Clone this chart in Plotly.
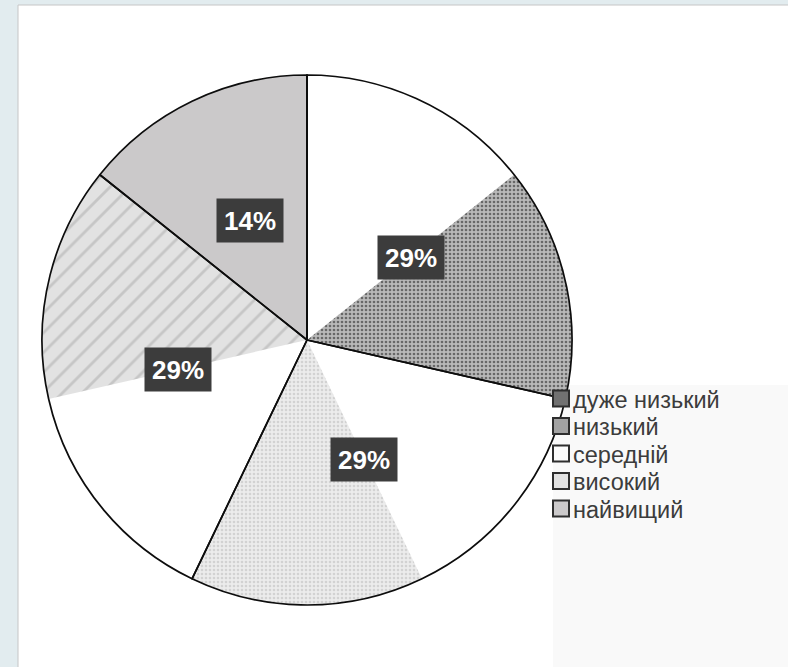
import math
import plotly.graph_objects as go

# ---- data ----
categories = ["дуже низький", "низький", "середній", "високий", "найвищий"]
values = [0, 2, 2, 2, 1]

# ---- styles ----
legend_fill = ["#717171", "#a2a2a2", "#fbfbfb", "#e2e2e2", "#cbc9ca"]
# slices drawn half white / half textured as in the picture
split = [False, True, True, True, False]
tex_fill = ["#747474", "#b9b9b9", "#ececec", "#e2e2e2", "#cbc9ca"]
tex_shape = ["", ".", ".", "/", ""]
tex_fg = ["#747474", "#686868", "#d2d2d2", "#c6c6c6", "#cbc9ca"]
tex_size = [8, 4, 4, 14, 8]
tex_sol = [0.3, 0.35, 0.35, 0.2, 0.3]

W, H = 788, 667
CX, CY, R = 307, 340, 265
dom_x = [(CX - R) / W, (CX + R) / W]
dom_y = [1 - (CY + R) / H, 1 - (CY - R) / H]

fig = go.Figure()

# appearance slices
sub_labels, sub_vals, sub_col, sub_shape, sub_fg, sub_size, sub_sol = [], [], [], [], [], [], []
for i, (c, v) in enumerate(zip(categories, values)):
    if v <= 0:
        continue
    if split[i]:
        sub_labels += [c + " (a)", c + " (b)"]
        sub_vals += [v / 2, v / 2]
        sub_col += ["#ffffff", tex_fill[i]]
        sub_shape += ["", tex_shape[i]]
        sub_fg += ["#ffffff", tex_fg[i]]
        sub_size += [8, tex_size[i]]
        sub_sol += [0.3, tex_sol[i]]
    else:
        sub_labels += [c]
        sub_vals += [v]
        sub_col += [tex_fill[i]]
        sub_shape += [tex_shape[i]]
        sub_fg += [tex_fg[i]]
        sub_size += [tex_size[i]]
        sub_sol += [tex_sol[i]]

fig.add_trace(go.Pie(
    labels=sub_labels, values=sub_vals, sort=False, direction="clockwise",
    rotation=0, domain=dict(x=dom_x, y=dom_y), textinfo="none",
    hoverinfo="skip", showlegend=False,
    marker=dict(colors=sub_col,
                pattern=dict(shape=sub_shape, fgcolor=sub_fg, bgcolor=sub_col,
                             size=sub_size, solidity=sub_sol),
                line=dict(width=0)),
))

# outlines of the category slices
fig.add_trace(go.Pie(
    labels=categories, values=values, sort=False, direction="clockwise",
    rotation=0, domain=dict(x=dom_x, y=dom_y), textinfo="none",
    hoverinfo="skip", showlegend=False,
    marker=dict(colors=["rgba(0,0,0,0)"] * len(categories),
                line=dict(color="#0d0d0d", width=1.7)),
))

# percentage labels in dark boxes
total = sum(values)
annotations = []
acc = 0
for c, v in zip(categories, values):
    if v > 0:
        mid = (acc + v / 2) / total * 2 * math.pi
        x = CX + 0.5 * R * math.sin(mid)
        y = CY - 0.5 * R * math.cos(mid)
        annotations.append(dict(
            x=x / W, y=1 - y / H, xref="paper", yref="paper", showarrow=False,
            xanchor="center", yanchor="middle",
            text="<b>%d%%</b>" % round(v / total * 100),
            font=dict(family="Liberation Sans, Arial", size=26, color="#ffffff"),
            bgcolor="#3c3c3c", borderpad=6, width=54, height=31))
    acc += v

shapes = [
    dict(type="rect", xref="paper", yref="paper", x0=18 / W, x1=1.01, y0=-0.01,
         y1=1 - 5 / H, fillcolor="#ffffff", line=dict(color="#c6c6c6", width=1),
         layer="below"),
    dict(type="rect", xref="paper", yref="paper", x0=553 / W, x1=1.01, y0=-0.01,
         y1=1 - 385 / H, fillcolor="#f9f9f9", line=dict(width=0), layer="below"),
]

# legend (squares + labels)
LX, LY0, LSTEP, LS = 553, 398.5, 27.5, 16
for i, c in enumerate(categories):
    yc = LY0 + i * LSTEP
    shapes.append(dict(type="rect", xref="paper", yref="paper",
                       x0=LX / W, x1=(LX + LS) / W,
                       y0=1 - (yc + LS / 2) / H, y1=1 - (yc - LS / 2) / H,
                       fillcolor=legend_fill[i], line=dict(color="#2e2e2e", width=2),
                       layer="above"))
    annotations.append(dict(
        x=(LX + LS + 2) / W, y=1 - (yc + 1) / H, xref="paper", yref="paper",
        showarrow=False, xanchor="left", yanchor="middle", text=c,
        font=dict(family="Liberation Sans, Arial", size=23.5, color="#3c3c3c")))

fig.update_layout(
    width=W, height=H, margin=dict(l=0, r=0, t=0, b=0),
    paper_bgcolor="#e2ecef", plot_bgcolor="#ffffff",
    showlegend=False,
    annotations=annotations, shapes=shapes,
)

fig.write_html("out.html", config={"displayModeBar": False},
               post_script="document.body.style.margin='0';")
